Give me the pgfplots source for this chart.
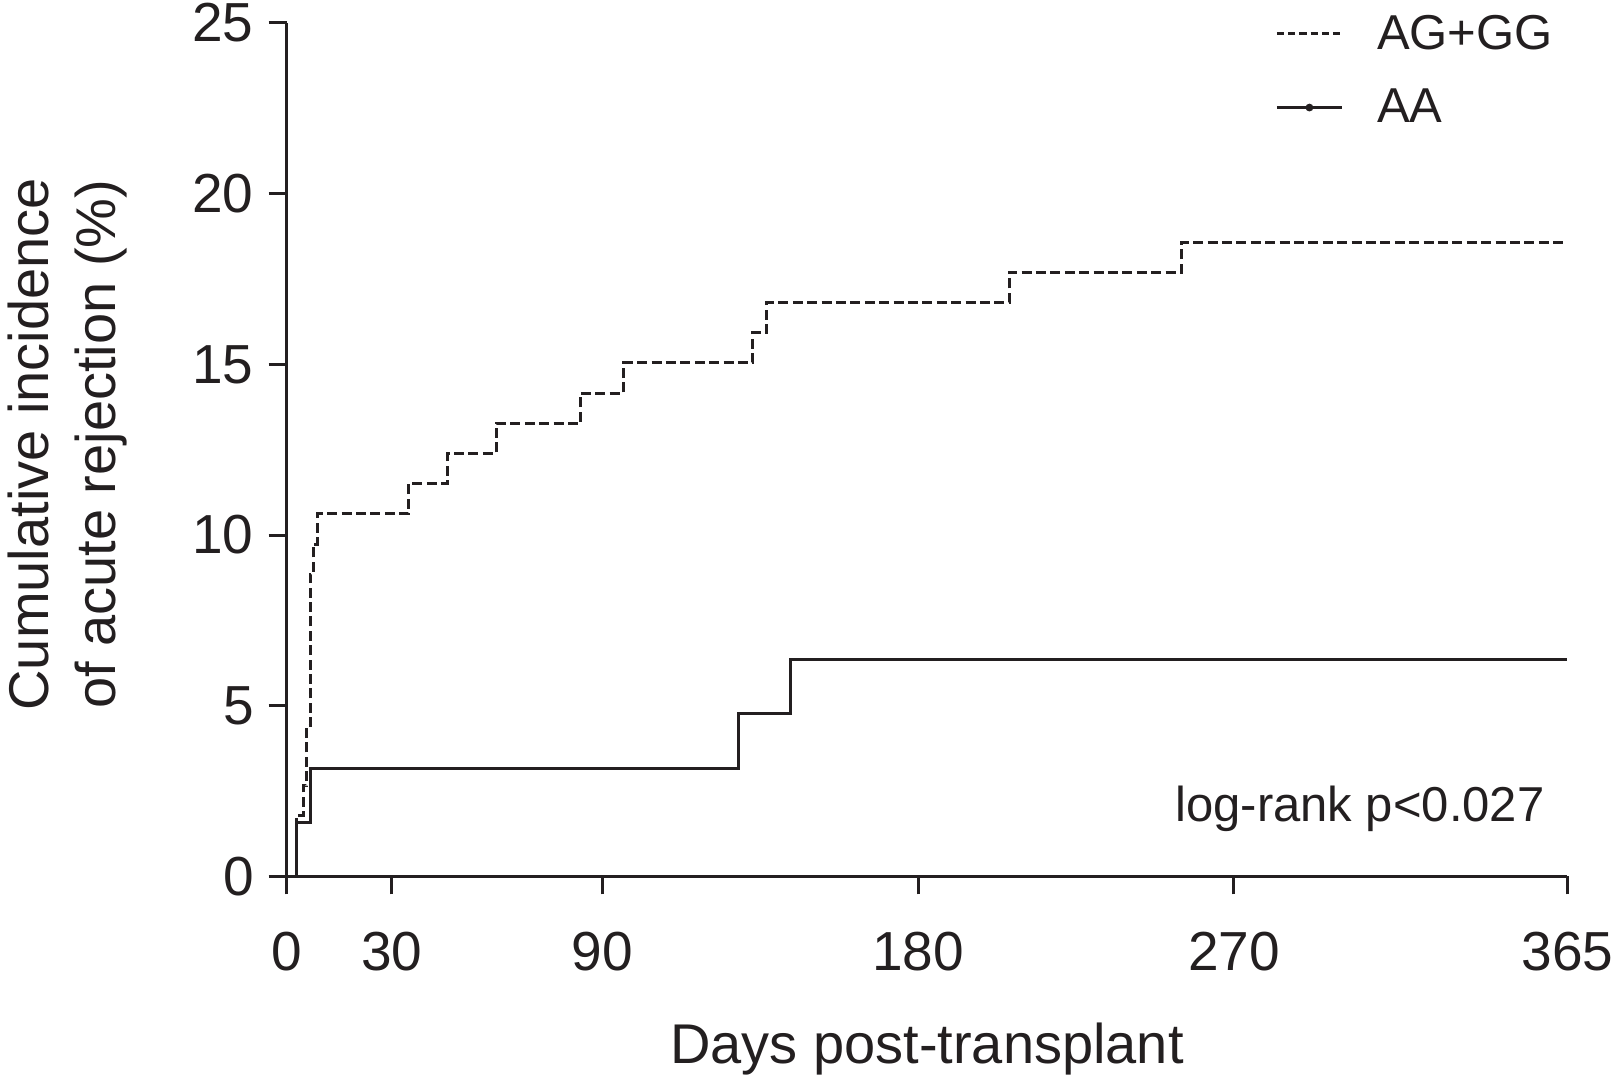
\documentclass[border=0pt]{standalone}
\usepackage{pgfplots}
\pgfplotsset{compat=1.18}
\usepackage{fontspec}
\setmainfont{Liberation Sans}
\definecolor{ink}{RGB}{35,31,32}
\begin{document}
\begin{tikzpicture}
\begin{axis}[
  scale only axis,
  width=640.35pt, height=426.7pt,
  xmin=0, xmax=365, ymin=0, ymax=25,
  axis x line*=bottom, axis y line*=left,
  axis line style={line width=1.5pt, color=ink},
  tick align=outside,
  major tick length=9pt,
  tick style={line width=1.5pt, color=ink},
  xtick={0,30,90,180,270,365},
  ytick={0,5,10,15,20,25},
  /pgf/number format/assume math mode=true,
  ticklabel style={font=\fontsize{27.5}{30}\selectfont, text=ink},
  xticklabel style={inner sep=0pt, yshift=-18.8pt},
  yticklabel style={inner sep=0pt, xshift=-7.3pt},
  xlabel={Days post-transplant},
  ylabel={Cumulative incidence\\of acute rejection (\%)},
  label style={font=\fontsize{28}{33.5}\selectfont, text=ink},
  xlabel style={at={(axis description cs:0.5,0)}, anchor=base, yshift=-93.3pt},
  ylabel style={align=center, inner sep=0pt, at={([xshift=-79.6pt,yshift=2.7pt]axis description cs:0,0.5)}, anchor=south},
  legend style={at={(axis description cs:0.7718,1.0094)}, anchor=north west, draw=none, fill=none,
    inner sep=0pt, font=\fontsize{24.5}{28}\selectfont, text=ink,
    row sep=18.3pt, column sep=16.8pt, nodes={inner sep=0pt}},
  legend cell align=left,
  legend image code/.code={\draw[mark repeat=2,mark phase=2,#1] plot coordinates {(0pt,0pt) (16.25pt,0pt) (32.5pt,0pt)};},
]
\addlegendimage{ink, line width=1.5pt, dash pattern=on 3.6pt off 2pt}
\addlegendentry{AG+GG}
\addlegendimage{ink, line width=1.4pt, solid, mark=*, mark size=1.2pt, mark options={solid}}
\addlegendentry{AA}

\addplot[const plot, ink, line width=1.5pt, forget plot] coordinates {
  (0,0) (2.7,1.59) (6.7,3.17) (128.7,4.76) (143.7,6.35) (365,6.35)
};
\addplot[const plot, ink, line width=1.5pt, dash pattern=on 5pt off 2.2pt, forget plot] coordinates {
  (0,0) (2.7,1.77) (4.75,2.65) (5.7,4.42) (6.7,8.85) (7.6,9.73) (8.7,10.62)
  (34.7,11.50) (45.8,12.39) (59.7,13.27) (83.8,14.16) (96.0,15.04)
  (132.8,15.93) (136.8,16.81) (205.9,17.70) (255.0,18.58) (364,18.58)
};
\node[anchor=base west, inner sep=0pt, font=\fontsize{24.5}{28}\selectfont, text=ink] at (axis cs:253.2,1.6) {log-rank p<0.027};
\end{axis}
\pgfresetboundingbox
\path[use as bounding box] (-143.3pt,-102.8pt) rectangle (665.2pt,438.2pt);
\end{tikzpicture}
\end{document}
